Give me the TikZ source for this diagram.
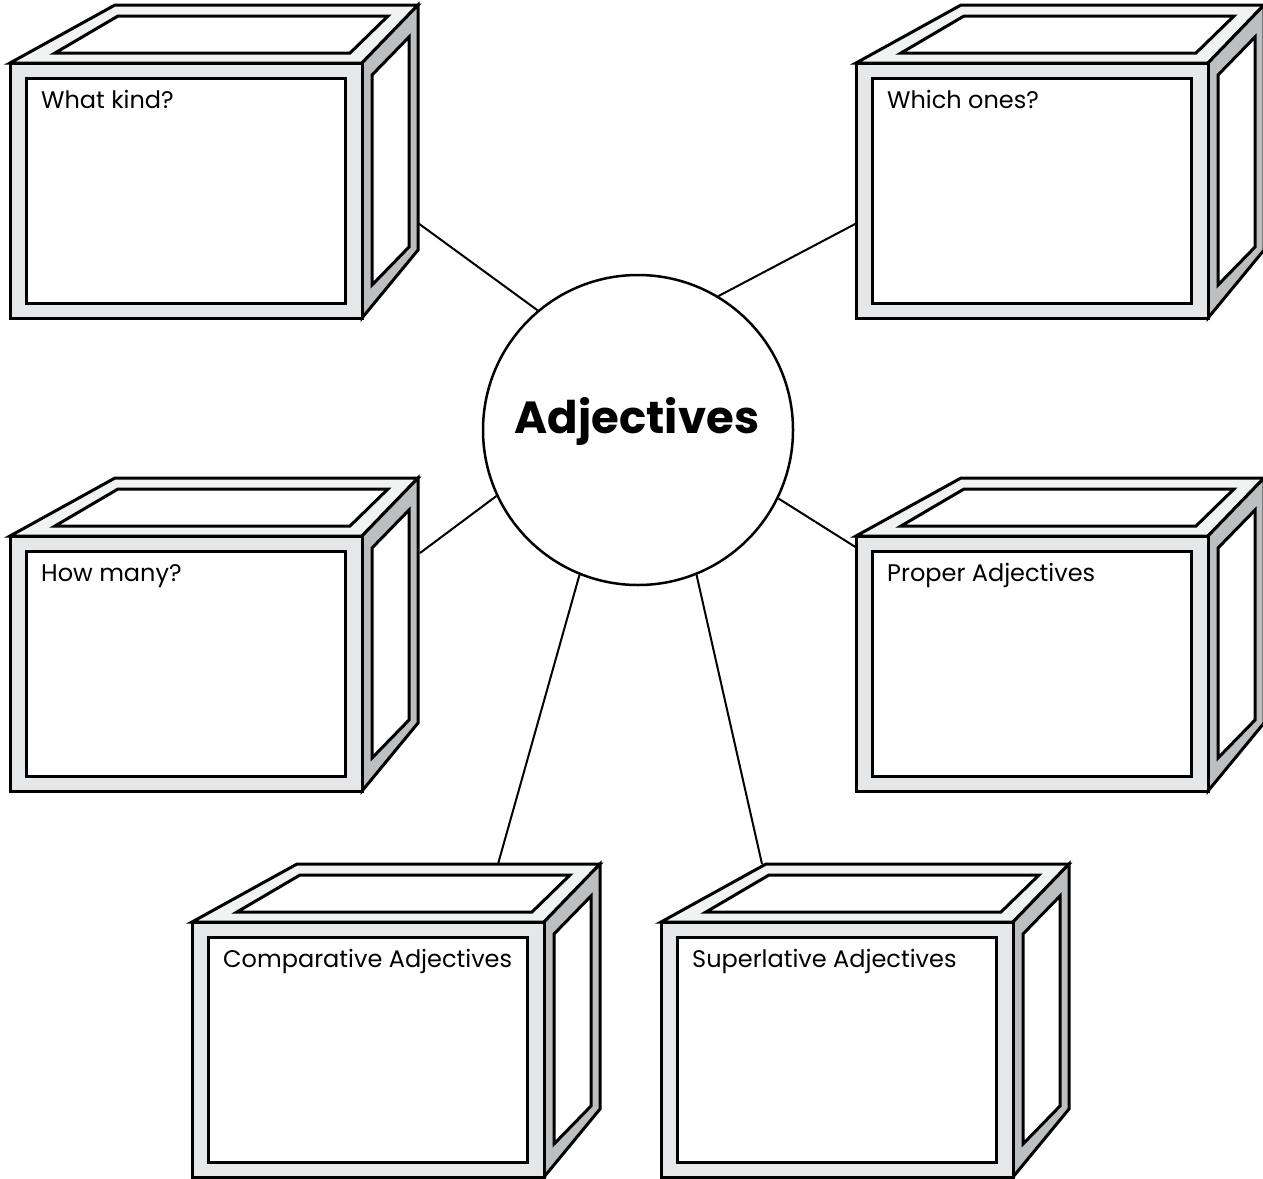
\documentclass[tikz,border=0pt]{standalone}
\usepackage{fontspec}
\setmainfont{Poppins}
\usetikzlibrary{positioning}

\definecolor{topgray}{HTML}{F1F2F2}
\definecolor{framegray}{HTML}{E6E7E8}
\definecolor{sidegray}{HTML}{BCBEC0}

\tikzset{
  cubeline/.style={draw=black, line width=3pt, line join=miter},
  link/.style={draw=black, line width=2pt},
  boxlabel/.style={anchor=base west, inner sep=0pt, font=\fontsize{24}{28}\selectfont},
  hubcircle/.style={circle, draw=black, line width=2.5pt, fill=white, minimum size=310pt, inner sep=0pt},
}

% one open box: name, front top-left corner, label
\newcommand{\adjbox}[3]{%
  \begin{scope}[shift={#2}]
    % top face
    \filldraw[cubeline, fill=topgray] (0,0) -- (105,-58) -- (408,-58) -- (352,0) -- cycle;
    \filldraw[cubeline, fill=white] (45,-10) -- (108,-47) -- (378,-47) -- (340,-10) -- cycle;
    % side face
    \filldraw[cubeline, fill=sidegray] (352,0) -- (408,-58) -- (408,187) -- (352,255) -- cycle;
    \filldraw[cubeline, fill=white] (362,12) -- (399,-26) -- (399,184) -- (362,222) -- cycle;
    % front face
    \filldraw[cubeline, fill=framegray] (0,0) rectangle (352,255);
    \filldraw[cubeline, fill=white] (16,15) rectangle (335,240);
    \node[boxlabel] (#1-label) at (31,45) {#3};
  \end{scope}}

\begin{document}
\begin{tikzpicture}[x=1pt, y=-1pt]
\useasboundingbox (0,0) rectangle (1263,1178);

% Draw the boxes
\adjbox{kind}{(10,63)}{What kind?}
\adjbox{which}{(856,63)}{Which ones?}
\adjbox{many}{(10,536)}{How many?}
\adjbox{proper}{(856,536)}{Proper Adjectives}
\adjbox{comp}{(192,922)}{Comparative Adjectives}
\adjbox{super}{(661,922)}{Superlative Adjectives}

% Draw the centre circle
\node[hubcircle] (hub) at (638,430) {};
\node[anchor=base, inner sep=0pt, font=\bfseries\fontsize{45}{50}\selectfont] (title) at (637,433) {Adjectives};

% Connector ends on the boxes
\coordinate (kind-end) at (418,223);
\coordinate (which-end) at (857,223);
\coordinate (many-end) at (420,553);
\coordinate (proper-end) at (857,548);
\coordinate (comp-end) at (498,864);
\coordinate (super-end) at (762,864);

% Draw connectors
\draw[link] (hub.130) -- (kind-end);
\draw[link] (hub.59) -- (which-end);
\draw[link] (hub.205) -- (many-end);
\draw[link] (hub.334) -- (proper-end);
\draw[link] (hub.248) -- (comp-end);
\draw[link] (hub.292) -- (super-end);

\end{tikzpicture}
\end{document}
